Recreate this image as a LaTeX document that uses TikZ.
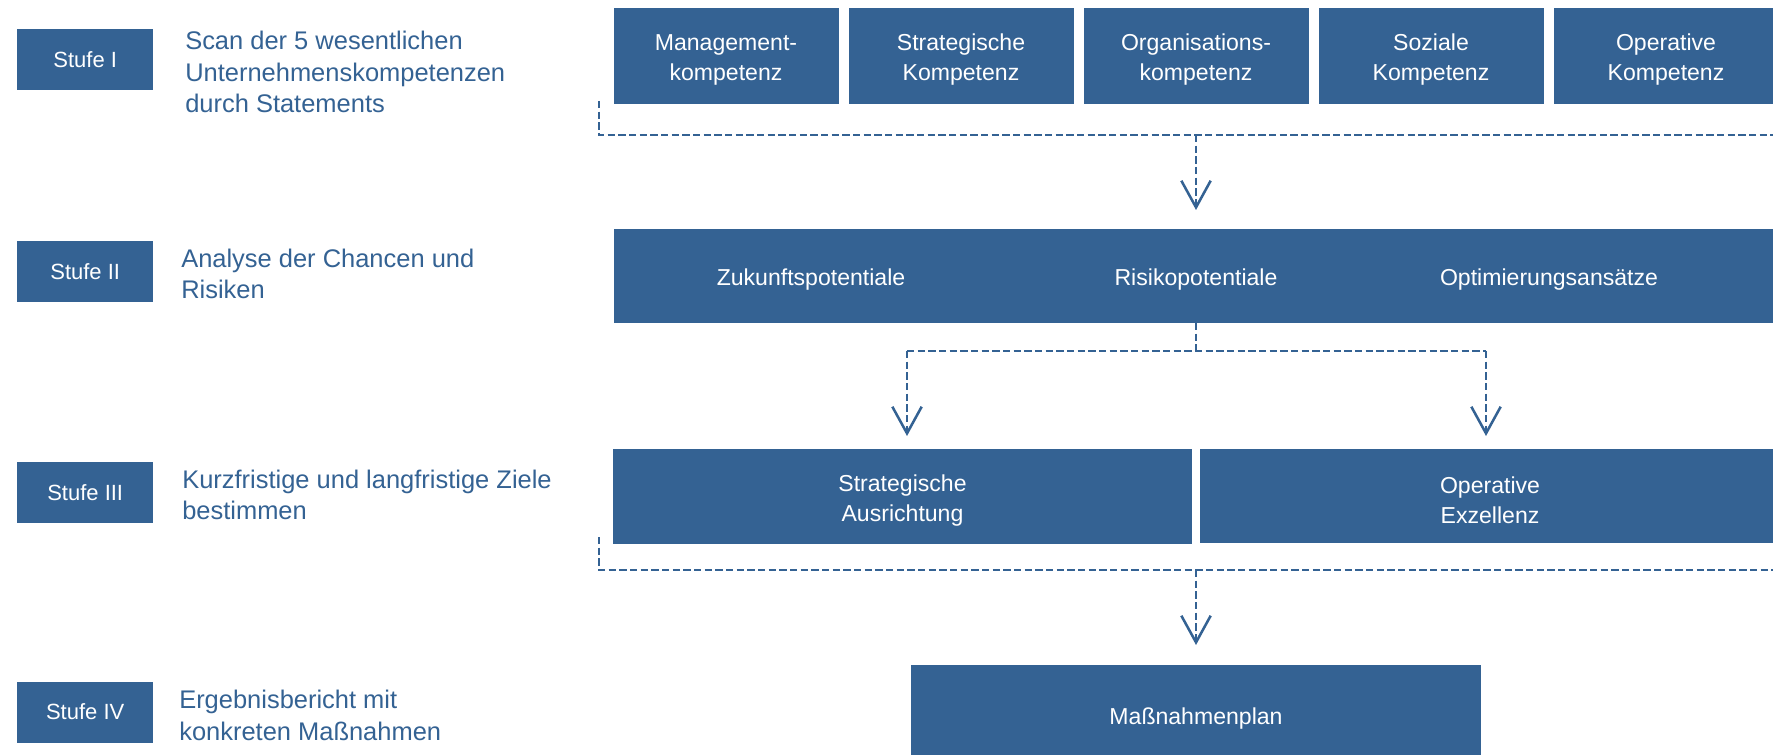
\documentclass[tikz,border=0pt]{standalone}
\usepackage{fontspec}
\setmainfont{Liberation Sans}
\usetikzlibrary{arrows.meta}
\definecolor{boxblue}{RGB}{52,98,147}
\begin{document}
\begin{tikzpicture}[x=0.75pt,y=-0.75pt,
  box/.style={fill=boxblue, inner sep=0pt},
  boxtxt/.style={inner sep=0pt, text=white, align=center, yshift=-3pt,
    font=\fontsize{17.3pt}{22.5pt}\selectfont},
  stufe/.style={box, text=white, minimum width=102.3pt, minimum height=45.75pt,
    font=\fontsize{16.5pt}{19pt}\selectfont},
  komp/.style={box, minimum width=168.75pt, minimum height=72pt},
  ltext/.style={anchor=north west, inner sep=0pt, align=left, text=boxblue,
    font=\fontsize{19.1pt}{23.6pt}\selectfont},
  conn/.style={draw=boxblue, line width=1.8pt, dash pattern=on 5.6pt off 2.4pt},
  arr/.style={-{Straight Barb[length=20pt,width=22pt,line width=1.9pt]}}
]
\useasboundingbox (0,0) rectangle (1773,755);

% Stufen
\node[stufe] (s1) at (85.2,59.5) {Stufe I};
\node[stufe] (s2) at (85.2,271.5) {Stufe II};
\node[stufe] (s3) at (85.2,492.5) {Stufe III};
\node[stufe] (s4) at (85.2,712) {Stufe IV};

\node[ltext] (t1) at (185,31) {Scan der 5 wesentlichen\\Unternehmenskompetenzen\\durch Statements};
\node[ltext] (t2) at (181,248.4) {Analyse der Chancen und\\Risiken};
\node[ltext] (t3) at (182,469.4) {Kurzfristige und langfristige Ziele\\bestimmen};
\node[ltext] (t4) at (179,690) {Ergebnisbericht mit\\konkreten Maßnahmen};

% Stufe I boxes
\node[komp, label={[boxtxt]center:Management-\\kompetenz}] (k1) at (726,56) {};
\node[komp, label={[boxtxt]center:Strategische\\Kompetenz}] (k2) at (961,56) {};
\node[komp, label={[boxtxt]center:Organisations-\\kompetenz}] (k3) at (1196,56) {};
\node[komp, label={[boxtxt]center:Soziale\\Kompetenz}] (k4) at (1431,56) {};
\node[komp, label={[boxtxt]center:Operative\\Kompetenz}] (k5) at (1666,56) {};

% Stufe II box
\node[box, minimum width=874.5pt, minimum height=70.5pt] (ii) at (1197,276) {};
\node[boxtxt] (z1) at (811,276) {Zukunftspotentiale};
\node[boxtxt] (z2) at (1196,276) {Risikopotentiale};
\node[boxtxt] (z3) at (1549,276) {Optimierungsansätze};

% Stufe III boxes
\node[box, minimum width=434.25pt, minimum height=71.25pt,
  label={[boxtxt]center:Strategische\\Ausrichtung}] (sa) at (902.5,496.5) {};
\node[box, minimum width=435pt, minimum height=70.5pt,
  label={[boxtxt]center:Operative\\Exzellenz}] (oe) at (1490,496) {};

% Stufe IV box
\node[box, minimum width=427.1pt, minimum height=75pt,
  label={[boxtxt]center:Maßnahmenplan}] (mp) at (1196,715) {};

% connector 1
\coordinate (a1) at (599,101);
\coordinate (a1r) at (1780,135);
\coordinate (a1t) at (1196,210);
\draw[conn] (a1) |- (a1r);
\draw[conn,arr] (a1t |- a1r) -- (a1t);

% connector 2
\coordinate (b2s) at (1196,323);
\coordinate (b2l) at (907,351);
\coordinate (b2r) at (1486,351);
\coordinate (b2lt) at (907,436);
\coordinate (b2rt) at (1486,436);
\draw[conn] (b2s) -- (b2s |- b2l);
\draw[conn] (b2l) -- (b2r);
\draw[conn,arr] (b2l) -- (b2lt);
\draw[conn,arr] (b2r) -- (b2rt);

% connector 3
\coordinate (c3) at (599,537);
\coordinate (c3r) at (1780,570);
\coordinate (c3t) at (1196,645);
\draw[conn] (c3) |- (c3r);
\draw[conn,arr] (c3t |- c3r) -- (c3t);
\end{tikzpicture}
\end{document}
